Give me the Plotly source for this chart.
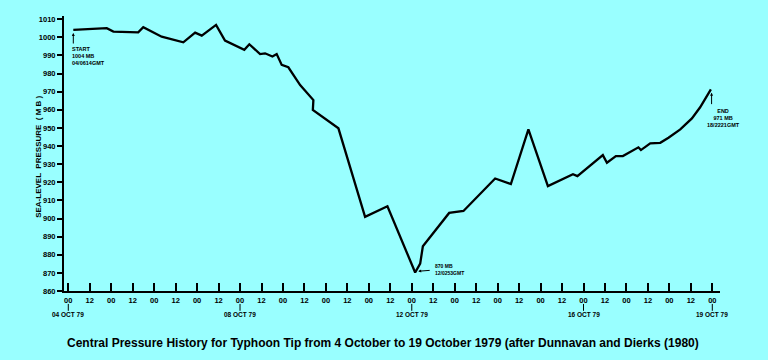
import plotly.graph_objects as go

# Hours after 04 Oct 1979 00 GMT, and central pressure (mb)
hours = [2.8, 21.5, 25.2, 39.1, 41.9, 52.2, 64.3, 70.9, 74.6, 82.6, 87.6, 98.4,
         101.2, 107.2, 110.0, 114.1, 116.5, 119.3, 123.0, 129.6, 137.0, 136.7,
         151.0, 165.9, 178.4, 193.9, 196.7, 198.2, 212.9, 220.9, 238.6, 247.4,
         257.2, 268.1, 282.1, 284.6, 298.8, 301.1, 306.1, 310.0, 318.7, 320.1,
         325.3, 330.9, 335.5, 342.1, 348.6, 353.2, 359.2]
pressure = [1004.1, 1005.1, 1003.2, 1002.8, 1005.6, 1000.4, 997.3, 1002.6, 1001.0,
            1006.9, 998.2, 993.1, 996.2, 990.8, 991.2, 989.4, 990.8, 984.8, 983.5,
            973.7, 965.4, 959.9, 949.8, 900.9, 906.8, 870.2, 875.1, 884.7, 903.1,
            904.2, 922.1, 919.0, 949.2, 917.9, 924.5, 923.4, 935.0, 930.8, 934.5,
            934.5, 939.3, 937.8, 941.5, 941.8, 944.6, 949.2, 955.3, 961.4, 971.3]

x_tickvals = list(range(0, 361, 12))
x_ticktext = ["00" if v % 24 == 0 else "12" for v in x_tickvals]
y_tickvals = list(range(860, 1011, 10))
date_hours = [0, 96, 192, 288, 360]
date_labels = ["04 OCT 79", "08 OCT 79", "12 OCT 79", "16 OCT 79", "19 OCT 79"]

BG = "#99FFFF"
FONT = "Liberation Sans, Arial"

fig = go.Figure()
fig.add_trace(go.Scatter(x=hours, y=pressure, mode="lines",
                         line=dict(color="black", width=2.3), hoverinfo="skip"))

fig.update_layout(
    width=768, height=360,
    paper_bgcolor=BG, plot_bgcolor=BG,
    margin=dict(l=64, r=48, t=16, b=69),
    showlegend=False,
    font=dict(family=FONT, color="black"),
    xaxis=dict(range=[-2.4, 364.3], showgrid=False, zeroline=False,
               showline=True, linecolor="black", linewidth=2,
               tickvals=x_tickvals, ticktext=x_ticktext,
               ticks="inside", ticklen=8, tickwidth=1.5, tickcolor="black",
               tickfont=dict(size=7.5, family=FONT, weight="bold"),
               ticklabelstandoff=1),
    yaxis=dict(range=[860, 1011.8], showgrid=False, zeroline=False,
               showline=True, linecolor="black", linewidth=2,
               tickvals=y_tickvals,
               ticks="outside", ticklen=5, tickwidth=1.5, tickcolor="black",
               tickfont=dict(size=7.5, family=FONT, weight="bold")),
)

annotations = []
shapes = []
for h, lab in zip(date_hours, date_labels):
    shapes.append(dict(type="line", xref="x", yref="paper", x0=h, x1=h,
                       y0=-0.047, y1=-0.072, line=dict(color="black", width=1)))
    annotations.append(dict(x=h, y=-0.087, xref="x", yref="paper", text=lab,
                            showarrow=False, xanchor="center", yanchor="middle",
                            font=dict(size=6.5, family=FONT, weight="bold")))

# Y axis title
annotations.append(dict(x=-0.04, y=0.487, xref="paper", yref="paper",
                        text="SEA-LEVEL  PRESSURE  ( M B )", textangle=-90,
                        showarrow=False, xanchor="center", yanchor="middle",
                        font=dict(size=8, family=FONT, weight="bold")))

# START
annotations.append(dict(x=2.8, y=1002.4, xref="x", yref="y", text="",
                        showarrow=True, arrowhead=2, arrowsize=0.6, arrowwidth=1,
                        arrowcolor="black", ax=0, ay=12))
annotations.append(dict(x=1.0, y=996.6, xref="x", yref="y",
                        text="START<br>1004 MB<br>04/0614GMT", align="left",
                        showarrow=False, xanchor="left", yanchor="top",
                        font=dict(size=5.5, family=FONT, weight="bold")))
# Minimum
annotations.append(dict(x=195.6, y=870.9, xref="x", yref="y", text="",
                        showarrow=True, arrowhead=2, arrowsize=0.6, arrowwidth=1,
                        arrowcolor="black", ax=13, ay=-1))
annotations.append(dict(x=204.0, y=871.8, xref="x", yref="y",
                        text="870 MB<br>12/0253GMT", align="left",
                        showarrow=False, xanchor="left", yanchor="middle",
                        font=dict(size=5, family=FONT, weight="bold")))
# END
annotations.append(dict(x=359.6, y=969.5, xref="x", yref="y", text="",
                        showarrow=True, arrowhead=2, arrowsize=0.6, arrowwidth=1,
                        arrowcolor="black", ax=0, ay=13))
annotations.append(dict(x=356.0, y=962.3, xref="x", yref="y",
                        text="END<br>971 MB<br>18/2221GMT", align="center",
                        showarrow=False, xanchor="left", yanchor="top",
                        font=dict(size=5.5, family=FONT, weight="bold")))
# Caption
annotations.append(dict(x=0.486, y=-0.189, xref="paper", yref="paper",
                        text="Central Pressure History for Typhoon Tip from 4 October to 19 October 1979 (after Dunnavan and Dierks (1980)",
                        showarrow=False, xanchor="center", yanchor="middle",
                        font=dict(size=12, family=FONT, weight="bold", color="black")))

fig.update_layout(annotations=annotations, shapes=shapes)
fig.write_html("out.html", config={"displayModeBar": False},
               post_script="document.body.style.margin='0';document.body.style.overflow='hidden';")
